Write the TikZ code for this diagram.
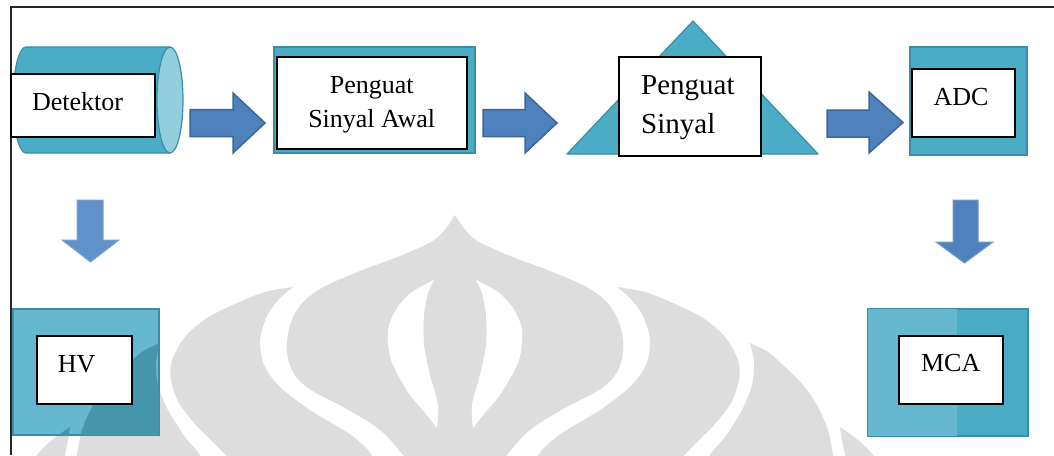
\documentclass[tikz,border=0pt]{standalone}
\usepackage{fontspec}
\setmainfont{Liberation Serif}
\definecolor{teal5}{HTML}{4BACC6}
\definecolor{tealdark}{HTML}{3A8DA4}
\definecolor{teallight}{HTML}{65B8CF}
\definecolor{hvdark}{HTML}{4596AA}
\definecolor{capcol}{HTML}{93CEDD}
\definecolor{arrowblue}{HTML}{4F81BD}
\definecolor{arrowdark}{HTML}{3A6797}
\definecolor{arrowsoft}{HTML}{6191C9}
\definecolor{wmgray}{HTML}{DDDDDD}
\begin{document}
\begin{tikzpicture}[x=1pt,y=-1pt,
  tealbox/.style={draw=tealdark, line width=1.2pt, fill=teal5, inner sep=0pt},
  wbox/.style={draw=black, line width=1.5pt, fill=white, inner sep=0pt},
  lbl/.style={font=\fontsize{26}{30}\selectfont, anchor=base, inner sep=0pt},
  biglbl/.style={font=\fontsize{29}{33}\selectfont, anchor=base west, inner sep=0pt},
  barrow/.style={fill=arrowblue, draw=arrowdark, line width=1.5pt, line join=miter},
  darrow/.style={fill=arrowsoft, draw=arrowsoft!85!white, line width=1pt, line join=miter},
  wm/.style={fill=wmgray}]
\useasboundingbox (0,0) rectangle (1054,455);
% ---- watermark
\begin{scope}
\clip (0,0) rectangle (1054,455);
\fill[wm] plot[smooth, tension=0.6] coordinates {(455,215) (463,227) (472,237) (485,245) (515,258) (550,271) (590,289) (613,310) (623,340) (619,368) (602,388) (565,408) (530,430) (507,455) (495,472)} -- plot[smooth, tension=0.6] coordinates {(415,472) (403,455) (380,430) (345,408) (308,388) (291,368) (287,340) (297,310) (320,289) (360,271) (395,258) (425,245) (438,237) (447,227) (455,215)} -- cycle;
\fill[white] plot[smooth] coordinates {(434,280) (412,292) (397,308) (388,330) (391,360) (408,392) (426,414) (437,428)} -- plot[smooth] coordinates {(437,428) (438,405) (430,375) (424,345) (424,315) (428,293) (434,280)} -- cycle;
\fill[white] plot[smooth] coordinates {(476,280) (498,292) (513,308) (522,330) (519,360) (502,392) (484,414) (473,428)} -- plot[smooth] coordinates {(473,428) (472,405) (480,375) (486,345) (486,315) (482,293) (476,280)} -- cycle;
\fill[wm] plot[smooth] coordinates {(617,287) (645,292) (673,303) (703,318) (725,337) (738,360) (739,380) (731,403) (714,425) (697,442) (680,460) (672,472)} -- plot[smooth] coordinates {(528,472) (542,450) (562,433) (600,410) (630,387) (646,365) (650,340) (643,316) (631,299) (617,287)} -- cycle;
\fill[wm] plot[smooth] coordinates {(293,287) (265,292) (237,303) (207,318) (185,337) (172,360) (171,380) (179,403) (196,425) (213,442) (230,460) (238,472)} -- plot[smooth] coordinates {(382,472) (368,450) (348,433) (310,410) (280,387) (264,365) (260,340) (267,316) (279,299) (293,287)} -- cycle;
\fill[wm] plot[smooth] coordinates {(750,343) (768,352) (785,367) (803,385) (817,405) (828,430) (833,455) (834,472)} -- plot[smooth] coordinates {(705,472) (710,455) (725,437) (742,410) (752,385) (754,362) (750,343)} -- cycle;
\fill[wm] plot[smooth] coordinates {(160,343) (142,352) (125,367) (107,385) (93,405) (82,430) (77,455) (76,472)} -- plot[smooth] coordinates {(205,472) (200,455) (185,437) (168,410) (158,385) (156,362) (160,343)} -- cycle;
\fill[wm] plot[smooth] coordinates {(840,427) (858,440) (873,455) (880,472)} -- plot[smooth] coordinates {(848,472) (845,455) (842,440) (840,427)} -- cycle;
\fill[wm] plot[smooth] coordinates {(70,427) (52,440) (37,455) (30,472)} -- plot[smooth] coordinates {(62,472) (65,455) (68,440) (70,427)} -- cycle;
\end{scope}
% ---- frame
\draw[line width=1.3pt, black!85] (11,455) -- (11,7) -- (1054,7);
% ---- detector cylinder
\filldraw[fill=teal5, draw=tealdark, line width=1.2pt] (170,47) -- (26,47) arc[start angle=90, end angle=270, x radius=13pt, y radius=53pt] -- (170,153) -- cycle;
\filldraw[fill=capcol, draw=tealdark, line width=1.2pt] (170,100) ellipse [x radius=13pt, y radius=53pt];
\node[wbox, minimum width=144pt, minimum height=63pt] (det) at (83,105.5) {};
% ---- pre-amplifier
\node[tealbox, minimum width=201pt, minimum height=106pt] (preo) at (374.5,100) {};
\node[wbox, minimum width=190pt, minimum height=92pt] (pre) at (372,103) {};
% ---- amplifier
\filldraw[fill=teal5, draw=tealdark, line width=1.2pt, line join=round] (567,154) -- (693,21) -- (818,154) -- cycle;
\node[wbox, minimum width=142pt, minimum height=99pt] (amp) at (690,106.5) {};
% ---- ADC
\node[tealbox, minimum width=117pt, minimum height=108pt] (adco) at (968.5,101) {};
\node[wbox, minimum width=103pt, minimum height=68pt] (adc) at (963.5,103) {};
% ---- HV
\node[tealbox, fill=teallight, minimum width=146pt, minimum height=126pt] (hvo) at (86,372) {};
\begin{scope}
\clip (hvo.north west) rectangle (hvo.south east);
\fill[hvdark] plot[smooth] coordinates {(160,343) (142,352) (125,367) (107,385) (93,405) (82,430) (77,455) (76,472)} -- plot[smooth] coordinates {(205,472) (200,455) (185,437) (168,410) (158,385) (156,362) (160,343)} -- cycle;
\fill[hvdark] plot[smooth] coordinates {(70,427) (52,440) (37,455) (30,472)} -- plot[smooth] coordinates {(62,472) (65,455) (68,440) (70,427)} -- cycle;
\end{scope}
\draw[draw=tealdark, line width=1.2pt] (hvo.north west) rectangle (hvo.south east);
\node[wbox, minimum width=95pt, minimum height=68pt] (hv) at (84.5,370) {};
% ---- MCA
\node[tealbox, minimum width=160pt, minimum height=127pt] (mcao) at (948,372.5) {};
\fill[teallight] ([shift={(0.6pt,-0.6pt)}]mcao.north west) rectangle ([shift={(0pt,0.6pt)}]mcao.south -| 957,0);
\node[wbox, minimum width=104pt, minimum height=68pt] (mca) at (951,370) {};
% ---- block arrows
\draw[barrow] (190,109.5) -- (233,109.5) -- (233,93) -- (265,123) -- (233,153) -- (233,136.5) -- (190,136.5) -- cycle;
\draw[barrow] (483,109.5) -- (525,109.5) -- (525,93) -- (557,123) -- (525,153) -- (525,136.5) -- (483,136.5) -- cycle;
\draw[barrow] (827,110) -- (869,110) -- (869,92) -- (903,122.5) -- (869,153) -- (869,137) -- (827,137) -- cycle;
\draw[darrow] (77,200) -- (103,200) -- (103,240) -- (119,240) -- (90.5,262) -- (62,240) -- (77,240) -- cycle;
\draw[barrow, line width=1pt, draw=arrowblue!80!white] (953,200) -- (978,200) -- (978,242) -- (993,242) -- (964.5,263) -- (936,242) -- (953,242) -- cycle;
% ---- labels
\node[lbl] (tdet) at (77.5,110) {Detektor};
\node[lbl] (tpre1) at (371.7,93) {Penguat};
\node[lbl] (tpre2) at (371.7,127) {Sinyal Awal};
\node[biglbl] (tamp1) at (641,94) {Penguat};
\node[biglbl] (tamp2) at (641,133) {Sinyal};
\node[lbl] (tadc) at (961,105) {ADC};
\node[lbl] (thv) at (76.7,372) {HV};
\node[lbl] (tmca) at (950.7,371.7) {MCA};
\end{tikzpicture}
\end{document}
